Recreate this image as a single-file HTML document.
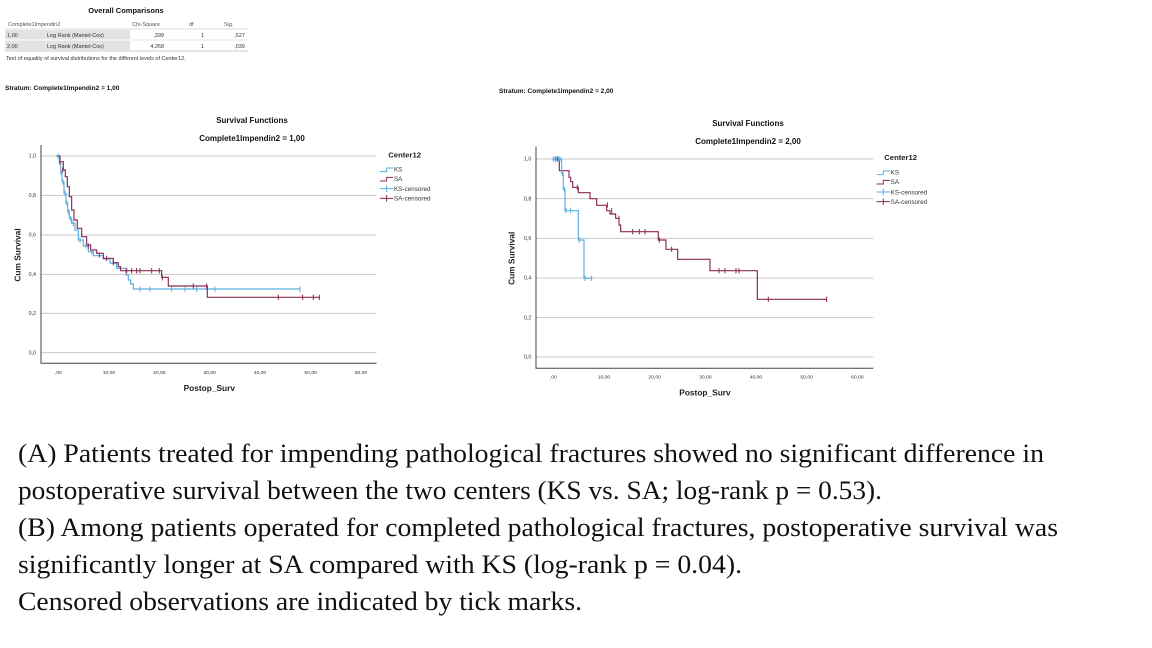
<!DOCTYPE html>
<html><head><meta charset="utf-8"><style>
html,body{margin:0;padding:0;background:#fff;}
svg{display:block;}
.s{font-family:"Liberation Sans",Arial,sans-serif;}
.t{font-family:"Liberation Serif","Times New Roman",serif;font-size:26px;fill:#111;}
</style></head><body>
<svg width="1152" height="648" viewBox="0 0 1152 648" xmlns="http://www.w3.org/2000/svg">
<rect width="1152" height="648" fill="#fff"/>
<!-- Table -->
<g class="s" fill="#333">
<text x="126" y="13" font-size="7.5" font-weight="bold" text-anchor="middle" fill="#111">Overall Comparisons</text>
<text x="8" y="26" font-size="5.5" fill="#555">Complete1Impendin2</text>
<text x="160" y="26" font-size="5.5" text-anchor="end" fill="#555">Chi-Square</text>
<text x="189" y="26" font-size="5.5" fill="#555">df</text>
<text x="224" y="26" font-size="5.5" fill="#555">Sig.</text>
<line x1="5" y1="29" x2="248" y2="29" stroke="#bbb" stroke-width="0.6"/>
<rect x="5" y="30" width="125" height="9" fill="#e2e2e2"/>
<rect x="5" y="41" width="125" height="9" fill="#e2e2e2"/>
<line x1="5" y1="40" x2="248" y2="40" stroke="#ccc" stroke-width="0.6"/>
<line x1="5" y1="51" x2="248" y2="51" stroke="#999" stroke-width="0.6"/>
<text x="7" y="37" font-size="5.5">1,00</text><text x="47" y="37" font-size="5.5">Log Rank (Mantel-Cox)</text>
<text x="164" y="37" font-size="5.5" text-anchor="end">,399</text><text x="204" y="37" font-size="5.5" text-anchor="end">1</text><text x="245" y="37" font-size="5.5" text-anchor="end">,527</text>
<text x="7" y="48" font-size="5.5">2,00</text><text x="47" y="48" font-size="5.5">Log Rank (Mantel-Cox)</text>
<text x="164" y="48" font-size="5.5" text-anchor="end">4,268</text><text x="204" y="48" font-size="5.5" text-anchor="end">1</text><text x="245" y="48" font-size="5.5" text-anchor="end">,039</text>
<text x="6" y="60" font-size="5.5">Test of equality of survival distributions for the different levels of Center12.</text>
<text x="5" y="90" font-size="6.5" font-weight="bold" fill="#111">Stratum: Complete1Impendin2 = 1,00</text>
<text x="499" y="93" font-size="6.5" font-weight="bold" fill="#111">Stratum: Complete1Impendin2 = 2,00</text>
<text x="252" y="123" font-size="8" font-weight="bold" text-anchor="middle" fill="#111">Survival Functions</text>
<text x="252" y="141" font-size="8" font-weight="bold" text-anchor="middle" fill="#111">Complete1Impendin2 = 1,00</text>
<text x="748" y="126" font-size="8" font-weight="bold" text-anchor="middle" fill="#111">Survival Functions</text>
<text x="748" y="144" font-size="8" font-weight="bold" text-anchor="middle" fill="#111">Complete1Impendin2 = 2,00</text>
</g>

<!-- Chart 1 -->
<g transform="translate(0,140) scale(0.3333)" class="s">
<g stroke="#c8c8c8" stroke-width="3">
<line x1="123" y1="48" x2="1130" y2="48"/><line x1="123" y1="166" x2="1130" y2="166"/><line x1="123" y1="285" x2="1130" y2="285"/>
<line x1="123" y1="403" x2="1130" y2="403"/><line x1="123" y1="520" x2="1130" y2="520"/><line x1="123" y1="638" x2="1130" y2="638"/>
</g>
<path d="M123,15 V670 H1130" fill="none" stroke="#444" stroke-width="3"/>
<g font-size="16" fill="#333" text-anchor="end">
<text x="108" y="53">1,0</text><text x="108" y="171">0,8</text><text x="108" y="290">0,6</text><text x="108" y="408">0,4</text><text x="108" y="525">0,2</text><text x="108" y="643">0,0</text>
</g>
<g font-size="15" fill="#333" text-anchor="middle">
<text x="175" y="702">,00</text><text x="327" y="702">10,00</text><text x="478" y="702">20,00</text><text x="629" y="702">30,00</text><text x="780" y="702">40,00</text><text x="932" y="702">50,00</text><text x="1083" y="702">60,00</text>
</g>
<text x="628" y="753" font-size="25" font-weight="bold" text-anchor="middle" fill="#222">Postop_Surv</text>
<text transform="translate(62,345) rotate(-90)" font-size="25" font-weight="bold" text-anchor="middle" fill="#222">Cum Survival</text>
<text x="1165" y="52" font-size="23" font-weight="bold" fill="#222">Center12</text>
<g font-size="19" fill="#333"><text x="1182" y="95">KS</text><text x="1182" y="123">SA</text><text x="1182" y="153">KS-censored</text><text x="1182" y="182">SA-censored</text></g>
<path d="M1140,95 H1160 V84 H1180" fill="none" stroke="#5aafe3" stroke-width="3"/>
<path d="M1140,123 H1160 V112 H1180" fill="none" stroke="#8a2b55" stroke-width="3"/>
<path d="M1140,146 H1180 M1160,136 V156" stroke="#5aafe3" stroke-width="3"/>
<path d="M1140,175 H1180 M1160,165 V185" stroke="#8a2b55" stroke-width="3"/>
<path d="M170,48 H178 V70 H182 V100 H186 V125 H192 V160 H198 V190 H203 V215 H208 V235 H215 V250 H225 V270 H235 V300 H250 V318 H265 V335 H280 V347 H310 V357 H330 V370 H350 V385 H378 V405 H385 V420 H392 V432 H400 V447 H900" fill="none" stroke="#5aafe3" stroke-width="3.5"/>
<path d="M170,48 H180 V65 H190 V90 H196 V110 H202 V140 H208 V170 H215 V210 H222 V240 H232 V265 H245 V290 H260 V315 H272 V330 H290 V340 H310 V355 H340 V368 H355 V380 H362 V392 H485 V412 H505 V438 H622 V472 H960" fill="none" stroke="#8a2b55" stroke-width="3.5"/>
<g stroke="#5aafe3" stroke-width="3">
<path d="M420,440v16M450,440v16M515,440v16M555,440v16M590,440v16M645,440v16M900,440v16M175,40v16M180,60v16M185,92v16M189,118v16M195,152v16M201,182v16M206,208v16M212,228v16M220,243v16M240,292v16M258,310v16M275,328v16"/>
</g>
<g stroke="#8a2b55" stroke-width="3">
<path d="M580,430v16M620,430v16M835,464v16M908,464v16M940,464v16M958,464v16M380,384v16M395,384v16M410,384v16M420,384v16M455,384v16M478,384v16M340,360v16M320,347v16M298,337v16M265,310v16M487,405v16M180,57v16M188,82v16"/>
</g>
</g>

<!-- Chart 2 -->
<g transform="translate(500,140) scale(0.3333)" class="s">
<g stroke="#c8c8c8" stroke-width="3">
<line x1="108" y1="57" x2="1120" y2="57"/><line x1="108" y1="176" x2="1120" y2="176"/><line x1="108" y1="295" x2="1120" y2="295"/>
<line x1="108" y1="414" x2="1120" y2="414"/><line x1="108" y1="533" x2="1120" y2="533"/><line x1="108" y1="651" x2="1120" y2="651"/>
</g>
<path d="M108,20 V685 H1120" fill="none" stroke="#444" stroke-width="3"/>
<g font-size="16" fill="#333" text-anchor="end">
<text x="94" y="62">1,0</text><text x="94" y="181">0,8</text><text x="94" y="300">0,6</text><text x="94" y="419">0,4</text><text x="94" y="538">0,2</text><text x="94" y="656">0,0</text>
</g>
<g font-size="15" fill="#333" text-anchor="middle">
<text x="160" y="715">,00</text><text x="312" y="715">10,00</text><text x="464" y="715">20,00</text><text x="616" y="715">30,00</text><text x="768" y="715">40,00</text><text x="920" y="715">50,00</text><text x="1072" y="715">60,00</text>
</g>
<text x="615" y="766" font-size="25" font-weight="bold" text-anchor="middle" fill="#222">Postop_Surv</text>
<text transform="translate(43,355) rotate(-90)" font-size="25" font-weight="bold" text-anchor="middle" fill="#222">Cum Survival</text>
<text x="1153" y="60" font-size="23" font-weight="bold" fill="#222">Center12</text>
<g font-size="19" fill="#333"><text x="1172" y="104">KS</text><text x="1172" y="132">SA</text><text x="1172" y="163">KS-censored</text><text x="1172" y="192">SA-censored</text></g>
<path d="M1130,104 H1150 V93 H1170" fill="none" stroke="#5aafe3" stroke-width="3"/>
<path d="M1130,132 H1150 V121 H1170" fill="none" stroke="#8a2b55" stroke-width="3"/>
<path d="M1130,156 H1170 M1150,146 V166" stroke="#5aafe3" stroke-width="3"/>
<path d="M1130,185 H1170 M1150,175 V195" stroke="#8a2b55" stroke-width="3"/>
<path d="M158,57 H178 V92 H207 V112 H212 V125 H218 V142 H235 V158 H270 V176 H290 V196 H320 V212 H330 V222 H347 V235 H357 V255 H362 V275 H475 V300 H498 V328 H533 V358 H630 V392 H772 V478 H980" fill="none" stroke="#8a2b55" stroke-width="3.5"/>
<path d="M158,57 H185 V100 H190 V148 H195 V212 H235 V300 H252 V415 H275" fill="none" stroke="#5aafe3" stroke-width="3.5"/>
<g stroke="#8a2b55" stroke-width="3">
<path d="M398,267v16M418,267v16M435,267v16M478,292v16M515,320v16M657,384v16M675,384v16M708,384v16M717,384v16M805,470v16M980,470v16M232,134v16M322,187v16M335,204v16M357,227v16M172,49v16"/>
</g>
<g stroke="#5aafe3" stroke-width="3">
<path d="M165,49v16M160,49v16M168,49v16M176,49v16M180,49v16M187,92v16M193,140v16M198,204v16M212,204v16M238,292v16M255,407v16M275,407v16"/>
</g>
</g>

<!-- Caption -->
<text class="t" x="18" y="462" textLength="1026" lengthAdjust="spacingAndGlyphs">(A) Patients treated for impending pathological fractures showed no significant difference in</text>
<text class="t" x="18" y="499" textLength="864" lengthAdjust="spacingAndGlyphs">postoperative survival between the two centers (KS vs. SA; log-rank p = 0.53).</text>
<text class="t" x="18" y="536" textLength="1040" lengthAdjust="spacingAndGlyphs">(B) Among patients operated for completed pathological fractures, postoperative survival was</text>
<text class="t" x="18" y="573" textLength="724" lengthAdjust="spacingAndGlyphs">significantly longer at SA compared with KS (log-rank p = 0.04).</text>
<text class="t" x="18" y="610" textLength="564" lengthAdjust="spacingAndGlyphs">Censored observations are indicated by tick marks.</text>
</svg>
</body></html>
